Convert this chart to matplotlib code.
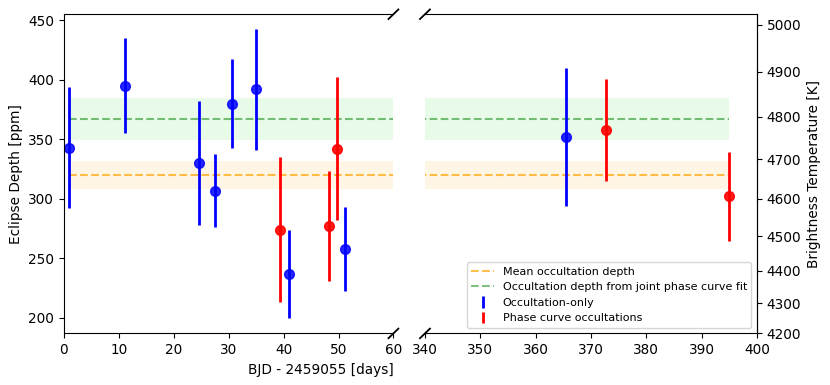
import numpy as np
import matplotlib
matplotlib.use('Agg')
import matplotlib.pyplot as plt

# occultation-only epochs (BJD - 2459055), depth [ppm], error [ppm]
occ_t = [0.9, 11.1, 24.6, 27.5, 30.6, 35.0, 40.9, 51.2, 365.5]
occ_d = [343, 395, 330, 307, 380, 392, 237, 258, 352]
occ_e = [51, 40, 52, 31, 37, 51, 37, 35, 58]

# phase curve occultations
pc_t = [39.3, 48.2, 49.7, 372.8, 395.0]
pc_d = [274, 277, 342, 358, 302]
pc_e = [61, 46, 60, 43, 37]

mean_depth, mean_err = 320, 11.6
joint_depth, joint_err = 367, 17.3

# depth <-> brightness temperature (planck ratio at an effective wavelength)
A = 41025.0
c2 = 22658.0

def d2T(d):
    d = np.clip(np.asarray(d, dtype=float), 1e-3, None)
    return c2 / np.log1p(A / d)

def T2d(T):
    T = np.clip(np.asarray(T, dtype=float), 1.0, None)
    return A / np.expm1(c2 / T)

plt.rcParams['font.size'] = 9.8

fig = plt.figure(figsize=(8.3, 3.85), dpi=100)
ax1 = fig.add_axes([0.077, 0.134, 0.397, 0.829])
ax2 = fig.add_axes([0.512, 0.134, 0.400, 0.829], sharey=ax1)

t0, t1 = min(occ_t + pc_t), max(occ_t + pc_t)
for ax in (ax1, ax2):
    ax.fill_between([t0, t1], joint_depth - joint_err, joint_depth + joint_err,
                    color='lightgreen', alpha=0.2, lw=0, zorder=0)
    ax.fill_between([t0, t1], mean_depth - mean_err, mean_depth + mean_err,
                    color='orange', alpha=0.1, lw=0, zorder=0)
    ax.hlines(mean_depth, t0, t1, colors='orange', linestyles='--', alpha=0.7, lw=1.5,
              label='Mean occultation depth')
    ax.hlines(joint_depth, t0, t1, colors='green', linestyles='--', alpha=0.5, lw=1.5,
              label='Occultation depth from joint phase curve fit')
    ax.errorbar(occ_t, occ_d, yerr=occ_e, fmt='none', ecolor='blue', elinewidth=2,
                label='Occultation-only')
    ax.errorbar(pc_t, pc_d, yerr=pc_e, fmt='none', ecolor='red', elinewidth=2,
                label='Phase curve occultations')
    ax.plot(occ_t, occ_d, 'o', color='blue', ms=7, alpha=0.85)
    ax.plot(pc_t, pc_d, 'o', color='red', ms=7, alpha=0.9)

ax1.set_xlim(0, 60)
ax2.set_xlim(340, 400)
ax1.set_ylim(187, 455)
ax1.set_xticks(np.arange(0, 61, 10))
ax2.set_xticks(np.arange(340, 401, 10))
ax1.set_yticks([200, 250, 300, 350, 400, 450])

ax1.spines['right'].set_visible(False)
ax2.spines['left'].set_visible(False)
ax2.tick_params(axis='y', left=False, labelleft=False)

sec = ax2.secondary_yaxis('right', functions=(d2T, T2d))
sec.set_yticks([4200, 4300, 4400, 4500, 4600, 4700, 4800, 4900, 5000])
sec.set_ylabel('Brightness Temperature [K]')

ax1.set_ylabel('Eclipse Depth [ppm]')
ax1.set_xlabel('BJD - 2459055 [days]', loc='right')

# break marks
d = 0.015
kw = dict(transform=ax1.transAxes, color='k', clip_on=False, lw=1.3)
ax1.plot((1 - d, 1 + d), (-d, +d), **kw)
ax1.plot((1 - d, 1 + d), (1 - d, 1 + d), **kw)
kw.update(transform=ax2.transAxes)
ax2.plot((-d, +d), (-d, +d), **kw)
ax2.plot((-d, +d), (1 - d, 1 + d), **kw)

ax2.legend(loc='lower right', fontsize=8)

fig.savefig('out.png', dpi=100)
